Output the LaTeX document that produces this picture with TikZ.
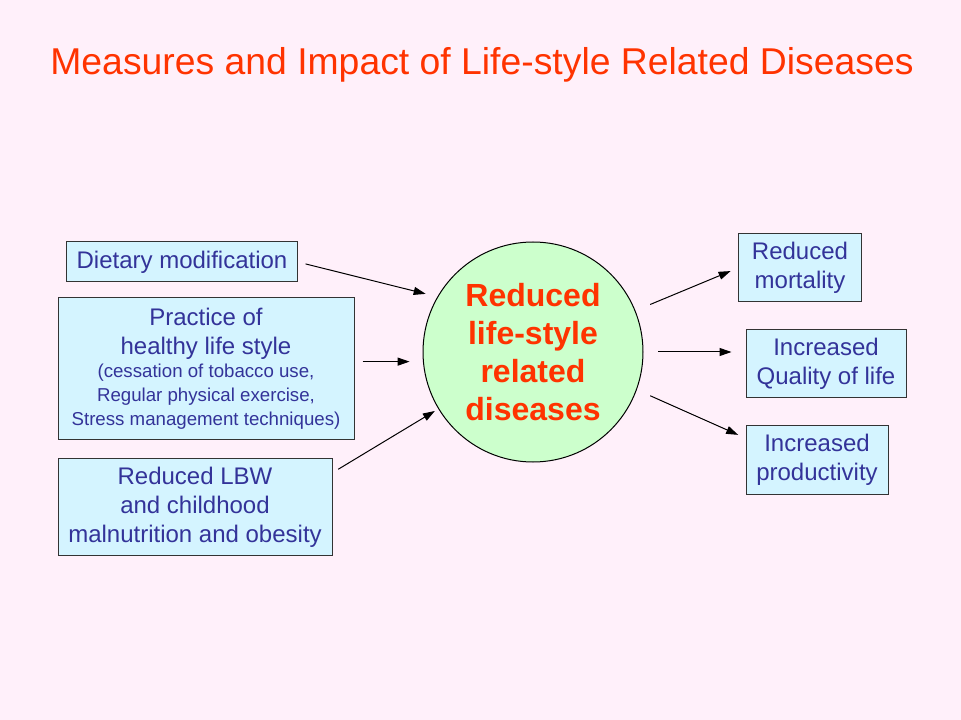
\documentclass[tikz,border=0pt]{standalone}
\usepackage{fontspec}
\setmainfont{Liberation Sans}
\usetikzlibrary{arrows.meta}
\definecolor{slidebg}{RGB}{255,240,250}
\definecolor{boxfill}{RGB}{212,244,255}
\definecolor{hubfill}{RGB}{204,255,204}
\definecolor{txtblue}{RGB}{51,51,153}
\definecolor{titlered}{RGB}{255,51,0}

\begin{document}
\begin{tikzpicture}[x=0.75pt, y=-0.75pt,
    box/.style={draw=black!80, fill=boxfill, line width=0.75pt, text=txtblue, align=center, inner sep=0pt, font=\fontsize{18}{21.75}\selectfont},
    hub/.style={circle, draw=black, fill=hubfill, line width=0.75pt, minimum size=165pt, inner sep=0pt, text=titlered, align=center, font=\bfseries\fontsize{24}{28.5}\selectfont},
    arr/.style={-{Triangle[length=9pt,width=6pt]}, line width=0.75pt}]
    \fill[slidebg] (0,0) rectangle (961,720);
    \node[text=titlered, font=\fontsize{28}{34}\selectfont] (title) at (482,65) {Measures and Impact of Life-style Related Diseases};

    % causes
    \node[box, minimum width=173pt, minimum height=30pt] (diet) at (182,262) {Dietary modification};
    \node[box, minimum width=222pt, minimum height=106.5pt] (prac) at (206,369) {Practice of\\ healthy life style\\[-4.25pt]
        {\fontsize{14}{18}\selectfont (cessation of tobacco use,}\\[-3.75pt]
        {\fontsize{14}{18}\selectfont Regular physical exercise,}\\[-3.75pt]
        {\fontsize{14}{18}\selectfont Stress management techniques)}};
    \node[box, minimum width=205.5pt, minimum height=72.75pt] (lbw) at (195,507) {Reduced LBW\\ and childhood\\ malnutrition and obesity};

    \node[hub] (circ) at (533,352) {Reduced\\ life-style\\ related\\ diseases};

    % effects
    \node[box, minimum width=92.25pt, minimum height=51pt] (mort) at (800,268) {Reduced\\ mortality};
    \node[box, minimum width=120pt, minimum height=51pt] (qual) at (826,364) {Increased\\ Quality of life};
    \node[box, minimum width=106.5pt, minimum height=51pt] (prod) at (817,460) {Increased\\ productivity};

    \draw[arr, shorten <=6pt, shorten >=9pt] (diet.east) -- (circ.150);
    \draw[arr, shorten <=6pt, shorten >=10pt] (prac.east |- circ.185) -- (circ.185);
    \draw[arr, shorten <=5pt, shorten >=3pt] (lbw.14) -- (circ.211);

    \draw[arr, shorten <=12pt, shorten >=6pt] (circ.22) -- (mort.west);
    \draw[arr, shorten <=11pt, shorten >=10.5pt] (circ.east) -- (qual.west |- circ.east);
    \draw[arr, shorten <=11pt, shorten >=6pt] (circ.-20) -- (prod.163);
\end{tikzpicture}
\end{document}
